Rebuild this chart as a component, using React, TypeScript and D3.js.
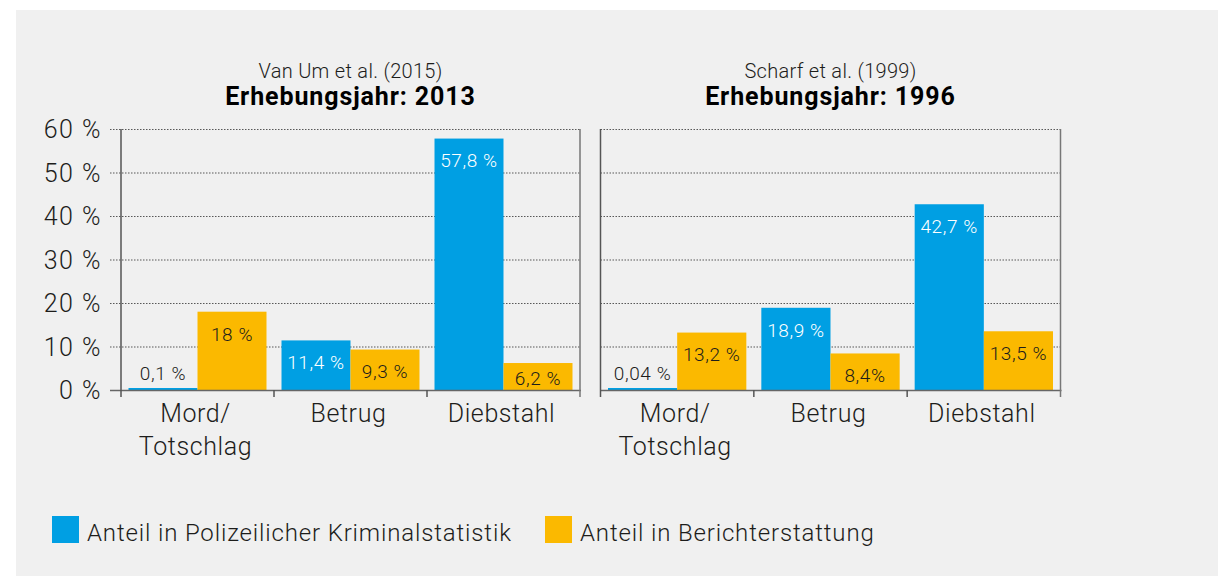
import React from "react";
import * as d3 from "d3";

const categories: string[][] = [["Mord/", "Totschlag"], ["Betrug"], ["Diebstahl"]];
const categoryKeys = ["Mord", "Betrug", "Diebstahl"];
const seriesKeys = ["pks", "media"];
const seriesNames = ["Anteil in Polizeilicher Kriminalstatistik", "Anteil in Berichterstattung"];
const seriesColors = ["#009fe3", "#fbb900"];

const panelSources = ["Van Um et al. (2015)", "Scharf et al. (1999)"];
const panelYears = ["Erhebungsjahr: 2013", "Erhebungsjahr: 1996"];

const pks2013 = [0.1, 11.4, 57.8];
const media2013 = [18, 9.3, 6.2];
const pks1996 = [0.04, 18.9, 42.7];
const media1996 = [13.2, 8.4, 13.5];

const pksLabels2013 = ["0,1 %", "11,4 %", "57,8 %"];
const mediaLabels2013 = ["18 %", "9,3 %", "6,2 %"];
const pksLabels1996 = ["0,04 %", "18,9 %", "42,7 %"];
const mediaLabels1996 = ["13,2 %", "8,4%", "13,5 %"];

const yTicks = [0, 10, 20, 30, 40, 50, 60];
const yTickLabels = ["0 %", "10 %", "20 %", "30 %", "40 %", "50 %", "60 %"];

const panels = [
  { values: [pks2013, media2013], labels: [pksLabels2013, mediaLabels2013], x0: 121, x1: 580, gridStart: 110 },
  { values: [pks1996, media1996], labels: [pksLabels1996, mediaLabels1996], x0: 600.5, x1: 1060.5, gridStart: 600.5 },
];

const FONT = "Roboto, 'Noto Sans', sans-serif";
const TEXT = "#1d1d1b";

export default function App() {
  const W = 1218;
  const H = 576;
  const y = d3.scaleLinear().domain([0, 60]).range([390, 129]);

  return (
    <svg width={W} height={H} style={{ position: "absolute", left: 0, top: 0 }} fontFamily={FONT}>
      <rect x={0} y={0} width={W} height={H} fill="#ffffff" />
      <rect x={16} y={10} width={W - 16} height={H - 10} fill="#f0f0f0" />

      {/* y tick labels */}
      {yTicks.map((t, i) => (
        <text key={"yl" + i} x={102} y={y(t)} dy="0.36em" textAnchor="end" fontSize={25} fontWeight={300}
          letterSpacing={1.5} fill={TEXT}>
          {yTickLabels[i]}
        </text>
      ))}

      {panels.map((p, pi) => {
        const xb = d3.scaleBand<string>().domain(categoryKeys).range([p.x0, p.x1]).padding(0);
        const xs = d3.scaleBand<string>().domain(seriesKeys).range([7.5, xb.bandwidth() - 7.5]).padding(0);
        const cx = (p.x0 + p.x1) / 2;
        return (
          <g key={"p" + pi}>
            <text x={cx} y={78} textAnchor="middle" fontSize={20} fontWeight={300} letterSpacing={0.3} fill={TEXT}>
              {panelSources[pi]}
            </text>
            <text x={cx} y={105} textAnchor="middle" fontSize={25} fontWeight={700} letterSpacing={0.9} fill="#000">
              {panelYears[pi]}
            </text>
            {/* gridlines */}
            {yTicks.filter((t) => t > 0).map((t) => (
              <line key={"g" + t} x1={p.gridStart} x2={p.x1 + 1} y1={y(t) + 0.5} y2={y(t) + 0.5}
                stroke="#333" strokeWidth={1} strokeDasharray="1.5,1.5" opacity={0.8} />
            ))}
            {/* bars */}
            {categoryKeys.map((c, ci) =>
              seriesKeys.map((s, si) => {
                const v = p.values[si][ci];
                const top = y(v);
                const h = Math.max(y(0) - top, 2);
                const bx = (xb(c) as number) + (xs(s) as number);
                const bw = xs.bandwidth();
                const small = y(0) - top < 20;
                let ly = Math.min(top + 22, 378);
                if (small) ly = 373;
                const fill = si === 0 && !small ? "#ffffff" : TEXT;
                return (
                  <g key={c + s}>
                    <rect x={bx} y={y(0) - h} width={bw} height={h} fill={seriesColors[si]} />
                    <text x={bx + bw / 2} y={ly} dy="0.36em" textAnchor="middle" fontSize={19} fontWeight={300}
                      letterSpacing={0.6} fill={fill}>
                      {p.labels[si][ci]}
                    </text>
                  </g>
                );
              })
            )}
            {/* baseline */}
            <line x1={p.gridStart} x2={p.x1 + 1} y1={390.5} y2={390.5} stroke="#666" strokeWidth={1.5} />
            {/* vertical lines / ticks */}
            {[0, 1, 2, 3].map((k) => {
              const xx = p.x0 + k * xb.bandwidth();
              const isEdge = k === 0 || k === 3;
              return (
                <line key={"t" + k} x1={xx} x2={xx} y1={isEdge ? 129 : 390} y2={397}
                  stroke={k === 3 ? "#777" : "#555"} strokeWidth={1.5} />
              );
            })}
            {/* category labels */}
            {categoryKeys.map((c, ci) => {
              const lx = (xb(c) as number) + xb.bandwidth() / 2 - 2;
              return (
                <text key={"c" + c} x={lx} y={422} textAnchor="middle"
                  fontSize={25} fontWeight={300} letterSpacing={0.6} fill={TEXT}>
                  {categories[ci].map((line, li) => (
                    <tspan key={li} x={lx} dy={li === 0 ? 0 : 33}>
                      {line}
                    </tspan>
                  ))}
                </text>
              );
            })}
          </g>
        );
      })}

      {/* legend */}
      {seriesNames.map((n, i) => {
        const lx = i === 0 ? 52 : 545;
        return (
          <g key={"lg" + i}>
            <rect x={lx} y={516} width={27} height={27} fill={seriesColors[i]} />
            <text x={lx + 35} y={541} fontSize={24} fontWeight={300} letterSpacing={0.85} fill={TEXT}>
              {n}
            </text>
          </g>
        );
      })}
    </svg>
  );
}
